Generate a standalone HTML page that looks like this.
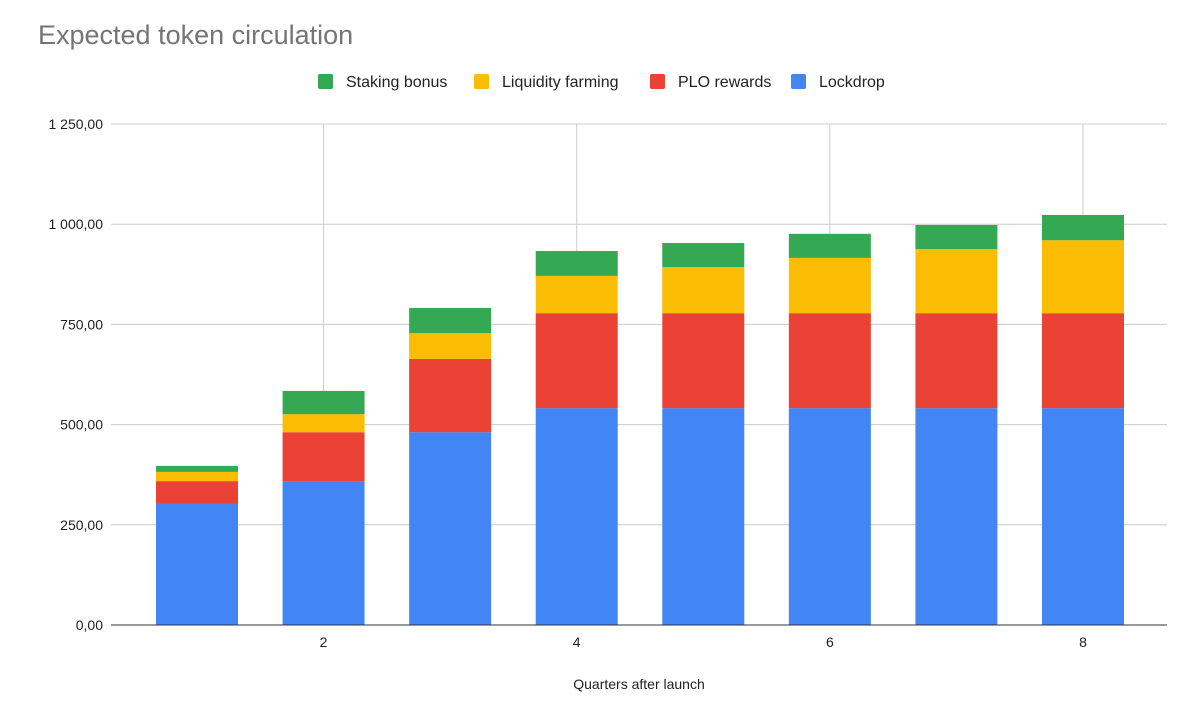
<!DOCTYPE html>
<html><head><meta charset="utf-8"><style>
body{margin:0;background:#fff;font-family:"Liberation Sans",Arial,sans-serif;}
svg text{font-family:"Liberation Sans",Arial,sans-serif;}
</style></head><body>
<svg id="chart" width="1194" height="703" viewBox="0 0 1194 703" xmlns="http://www.w3.org/2000/svg">
<rect width="1194" height="703" fill="#fff"/>
<text x="38" y="44" font-size="27" fill="#757575">Expected token circulation</text>
<g id="legend"></g>
<g id="grid"></g>
<g id="bars"></g>
<g id="axes"></g>
<text x="639" y="689" font-size="14" fill="#222" text-anchor="middle">Quarters after launch</text>
</svg>
<script>
const quarters = [1,2,3,4,5,6,7,8];
const lockdrop = [302,359,481,541,541,541,541,541];
const ploRewards = [57,122,183,237,237,237,237,237];
const liquidityFarming = [23,45,64,93,115,138,160,182];
const stakingBonus = [15,58,63,62,60,60,60,63];
const yTicks = [0,250,500,750,1000,1250];
const yTickLabels = ["0,00","250,00","500,00","750,00","1 000,00","1 250,00"];
const xTicks = [2,4,6,8];
const seriesNames = ["Staking bonus","Liquidity farming","PLO rewards","Lockdrop"];

const NS="http://www.w3.org/2000/svg";
const plotLeft=111,plotRight=1167,plotTop=124,plotBottom=625;
const yScale=v=>plotBottom-(v/1250)*(plotBottom-plotTop);
const xScale=q=>197+(q-1)*126.57;
const barW=82;
function mk(tag,attrs,parent){const e=document.createElementNS(NS,tag);for(const k in attrs)e.setAttribute(k,attrs[k]);parent.appendChild(e);return e;}
const gridG=document.getElementById('grid'),barsG=document.getElementById('bars'),axesG=document.getElementById('axes'),legendG=document.getElementById('legend');

yTicks.forEach((t,i)=>{
  const y=yScale(t);
  if(t>0){const l=mk('line',{x1:plotLeft,x2:plotRight,y1:y,y2:y,stroke:'#ccc','stroke-width':1},gridG);
  
  }
  const tx=mk('text',{x:plotLeft-8,y:y+5,'font-size':14,fill:'#222','text-anchor':'end'},axesG);
  tx.textContent=yTickLabels[i];
  
  
});
xTicks.forEach(q=>{
  const x=xScale(q);
  const l=mk('line',{x1:x,x2:x,y1:plotTop,y2:plotBottom,stroke:'#ccc','stroke-width':1},gridG);
  
  
  const tx=mk('text',{x:x,y:647,'font-size':14,fill:'#222','text-anchor':'middle'},axesG);
  tx.textContent=q;
  
  
});
const l0=mk('line',{x1:plotLeft,x2:plotRight,y1:plotBottom,y2:plotBottom,stroke:'#333','stroke-width':1},axesG);



const stack=[[lockdrop,'#4285f4','lockdrop'],[ploRewards,'#ea4335','plo-rewards'],[liquidityFarming,'#fbbc04','liquidity-farming'],[stakingBonus,'#34a853','staking-bonus']];
quarters.forEach((q,i)=>{
  let base=0;
  stack.forEach(([arr,col,name])=>{
    const y0=yScale(base),y1=yScale(base+arr[i]);
    const r=mk('rect',{x:xScale(q)-barW/2,y:y1,width:barW,height:y0-y1,fill:col},barsG);
    
    
    base+=arr[i];
  });
});

const legCols=['#34a853','#fbbc04','#ea4335','#4285f4'];
const legX=[318,474,650,791];
seriesNames.forEach((n,i)=>{
  const g=mk('g',{},legendG);
  
  
  mk('rect',{x:legX[i],y:74,width:15,height:15,rx:2,fill:legCols[i]},g);
  const t=mk('text',{x:legX[i]+28,y:87,'font-size':16,fill:'#222'},g);
  t.textContent=n;
});
</script>
</body></html>
